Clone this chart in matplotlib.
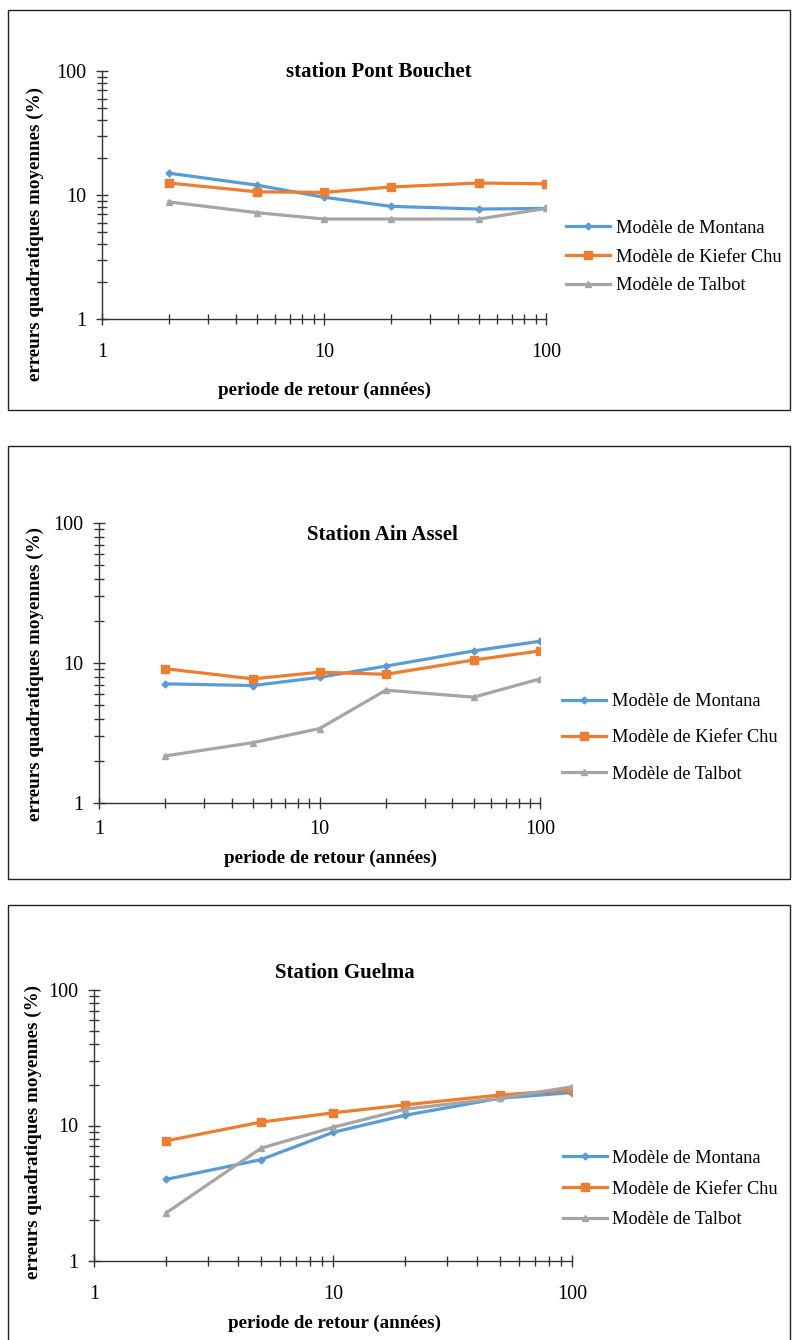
import matplotlib
matplotlib.use('Agg')
import matplotlib.pyplot as plt
from matplotlib.patches import Rectangle
from matplotlib.ticker import LogLocator, NullFormatter, FixedLocator, FixedFormatter

plt.rcParams['font.family'] = ['Liberation Serif', 'DejaVu Serif']

# periods de retour (années)
periods = [2, 5, 10, 20, 50, 100]
series_names = ['Modèle de Montana', 'Modèle de Kiefer Chu', 'Modèle de Talbot']

# station Pont Bouchet
pb_montana = [15.0, 12.0, 9.6, 8.1, 7.7, 7.8]
pb_kiefer = [12.5, 10.6, 10.5, 11.6, 12.5, 12.3]
pb_talbot = [8.8, 7.2, 6.4, 6.4, 6.4, 7.8]

# Station Ain Assel
aa_montana = [7.1, 6.9, 7.9, 9.5, 12.2, 14.3]
aa_kiefer = [9.1, 7.7, 8.6, 8.3, 10.5, 12.2]
aa_talbot = [2.17, 2.7, 3.4, 6.4, 5.7, 7.7]

# Station Guelma
gu_montana = [4.0, 5.6, 8.9, 11.9, 15.9, 17.5]
gu_kiefer = [7.7, 10.6, 12.4, 14.2, 16.8, 18.3]
gu_talbot = [2.26, 6.8, 9.7, 13.2, 15.9, 19.3]

titles = ['station Pont Bouchet', 'Station Ain Assel', 'Station Guelma']
xlabel = 'periode de retour (années)'
ylabel = 'erreurs quadratiques moyennes (%)'

colors = ['#5B9BD5', '#ED7D31', '#A5A5A5']
markers = ['D', 's', '^']
msizes = [3.5, 6, 4.5]

W, H = 792, 1340
fig = plt.figure(figsize=(W / 100, H / 100), dpi=100)


def frac(x, y):
    return x / W, 1 - y / H


def add_panel(data, title, box, axpos, title_xy, leg_xy, xlab_xy, ylab_xy,
              xpad, legspace):
    # outer frame like the Excel chart area
    bx0, by0, bx1, by1 = box
    fig.patches.append(Rectangle(frac(bx0, by1), (bx1 - bx0) / W, (by1 - by0) / H,
                                 transform=fig.transFigure, fill=False,
                                 edgecolor='#222222', linewidth=1.0))
    l, t, r, b = axpos
    ax = fig.add_axes([l / W, 1 - b / H, (r - l) / W, (b - t) / H])
    lines = []
    for vals, c, m, ms, name in zip(data, colors, markers, msizes, series_names):
        ln, = ax.plot(periods, vals, color=c, lw=2.3, marker=m, ms=ms,
                      markeredgecolor=c, label=name)
        lines.append(ln)
    ax.set_xscale('log')
    ax.set_yscale('log')
    ax.set_xlim(1, 100)
    ax.set_ylim(1, 100)
    for s in ['top', 'right']:
        ax.spines[s].set_visible(False)
    for s in ['left', 'bottom']:
        ax.spines[s].set_color('#333333')
        ax.spines[s].set_linewidth(1.0)
    ax.xaxis.set_major_locator(FixedLocator([1, 10, 100]))
    ax.xaxis.set_major_formatter(FixedFormatter(['1', '10', '100']))
    ax.yaxis.set_major_locator(FixedLocator([1, 10, 100]))
    ax.yaxis.set_major_formatter(FixedFormatter(['1', '10', '100']))
    for axis in (ax.xaxis, ax.yaxis):
        axis.set_minor_locator(LogLocator(base=10, subs=range(2, 10)))
        axis.set_minor_formatter(NullFormatter())
    ax.tick_params(axis='both', which='major', direction='inout', length=9,
                   width=1, color='#333333', labelsize=14.5)
    ax.tick_params(axis='both', which='minor', direction='inout', length=7,
                   width=1, color='#333333')
    ax.tick_params(axis='x', which='major', pad=xpad)
    ax.tick_params(axis='y', which='major', pad=7)
    ax.set_facecolor('none')

    fig.text(*frac(*title_xy), title, ha='center', va='center',
             fontsize=15, fontweight='bold')
    fig.text(*frac(*xlab_xy), xlabel, ha='center', va='center',
             fontsize=13.7, fontweight='bold')
    fig.text(*frac(*ylab_xy), ylabel, ha='center', va='center',
             fontsize=13.7, fontweight='bold', rotation=90)
    ax.legend(handles=lines, loc='center left', bbox_to_anchor=frac(*leg_xy),
              bbox_transform=fig.transFigure, frameon=False, fontsize=13.2,
              handlelength=2.4, handletextpad=0.3, labelspacing=legspace,
              borderpad=0, borderaxespad=0)
    return ax


add_panel([pb_montana, pb_kiefer, pb_talbot], titles[0],
          box=(8, 10, 790, 410), axpos=(102, 71, 546, 319),
          title_xy=(379, 72), leg_xy=(566, 257), xlab_xy=(324, 390),
          ylab_xy=(35, 234), xpad=13, legspace=0.65)

add_panel([aa_montana, aa_kiefer, aa_talbot], titles[1],
          box=(8, 446, 790, 879), axpos=(99, 523, 540, 803),
          title_xy=(382, 535), leg_xy=(562, 738), xlab_xy=(330, 858),
          ylab_xy=(35, 674), xpad=8, legspace=1.05)

add_panel([gu_montana, gu_kiefer, gu_talbot], titles[2],
          box=(8, 905, 790, 1350), axpos=(94, 990, 572, 1261),
          title_xy=(345, 973), leg_xy=(563, 1189), xlab_xy=(335, 1323),
          ylab_xy=(33, 1132), xpad=13, legspace=0.75)

fig.savefig('out.png', dpi=100, facecolor='white')
